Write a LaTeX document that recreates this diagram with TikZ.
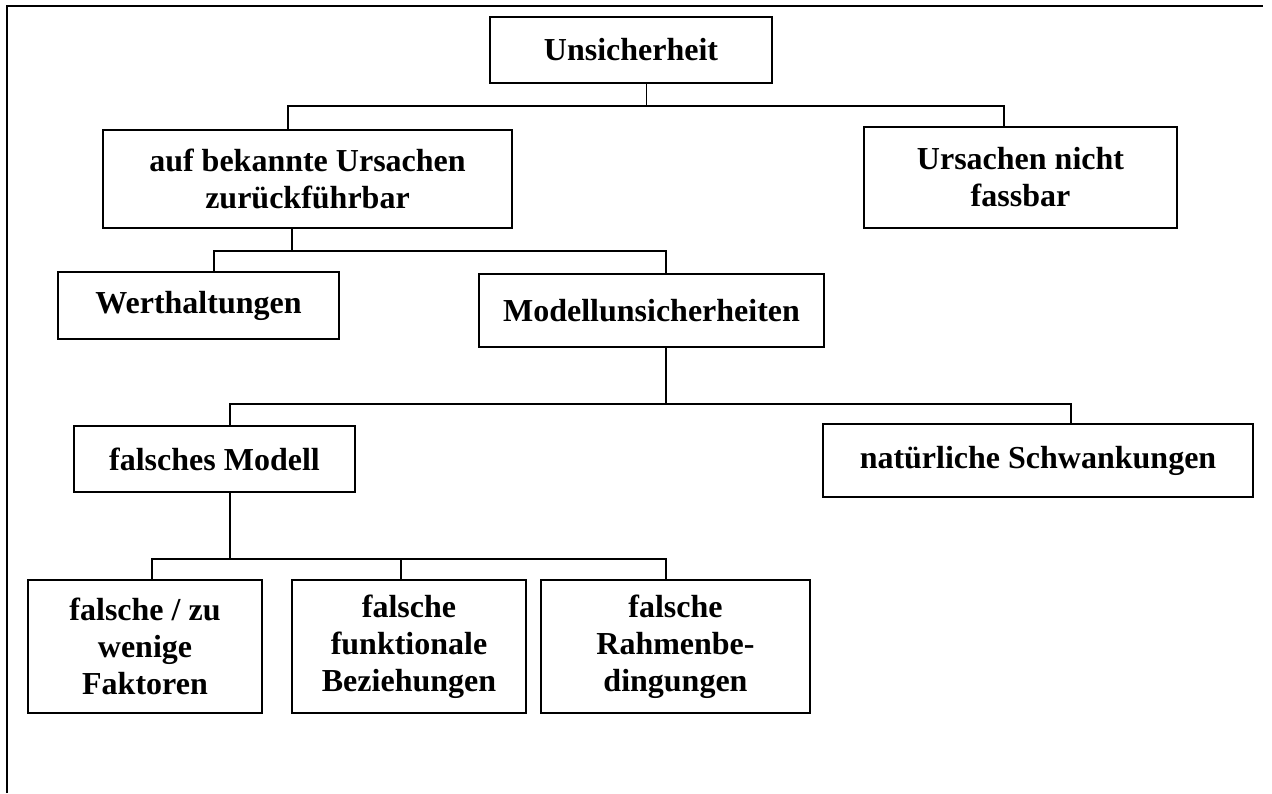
\documentclass[tikz,border=0pt]{standalone}
\usepackage{fontspec}
\setmainfont{Liberation Serif}
\usepackage{tikz}
\usetikzlibrary{calc}

\begin{document}
\begin{tikzpicture}[
        x=0.5pt, y=-0.5pt,
        font=\fontsize{16}{18.5}\selectfont\bfseries,
        box/.style={draw, line width=0.9pt, align=center, inner sep=0pt,
            minimum width=#1},
        box/.default=140pt,
        link/.style={line width=0.7pt}
    ]
        \useasboundingbox (0,0) rectangle (1272,793);

        % Outer frame (open at right and bottom)
        \draw[line width=1pt] (7,793) -- (7,6) -- (1263,6);

        % Level 1
        \node[box=141pt, minimum height=33pt] (unsich) at (631,50) {Unsicherheit};

        % Level 2
        \node[box=204.5pt, minimum height=49pt] (auf) at (307.5,179) {auf bekannte Ursachen\\zurückführbar};
        \node[box=156.5pt, minimum height=50.5pt] (fassbar) at (1020.5,177.5) {Ursachen nicht\\fassbar};

        % Level 3
        \node[box=140.5pt, minimum height=33.5pt] (werth) at (198.5,305.5) {Werthaltungen};
        \node[box=172.5pt, minimum height=36.5pt] (modell) at (651.5,310.5) {Modellunsicherheiten};

        % Level 4
        \node[box=140.5pt, minimum height=33pt] (falsch) at (214.5,459) {falsches Modell};
        \node[box=215pt, minimum height=36.5pt] (natur) at (1038,460.5) {natürliche Schwankungen};

        % Level 5
        \node[box=117pt, minimum height=66.5pt] (faktoren) at (145,646.5) {falsche / zu\\wenige\\Faktoren};
        \node[box=117pt, minimum height=66.5pt] (bezieh) at (409,646.5) {falsche\\funktionale\\Beziehungen};
        \node[box=134.5pt, minimum height=66.5pt] (rahmen) at (675.5,646.5) {falsche\\Rahmenbe-\\dingungen};

        % Connectors
        \foreach \c/\s in {auf/-9.75pt, fassbar/-8.25pt}
            \draw[link] ([xshift=7.75pt]unsich.south) -- ++(0,22) -| ([xshift=\s]\c.north);
        \foreach \c/\s in {werth/7.75pt, modell/7.25pt}
            \draw[link] ([xshift=-7.75pt]auf.south) -- ++(0,22) -| ([xshift=\s]\c.north);
        \foreach \c/\s in {falsch/7.75pt, natur/16.5pt}
            \draw[link] ([xshift=7.25pt]modell.south) -- ++(0,56) -| ([xshift=\s]\c.north);
        \foreach \c/\s in {faktoren/3.5pt, bezieh/-4pt, rahmen/-4.75pt}
            \draw[link] ([xshift=7.75pt]falsch.south) -- ++(0,66) -| ([xshift=\s]\c.north);

    \end{tikzpicture}
\end{document}
